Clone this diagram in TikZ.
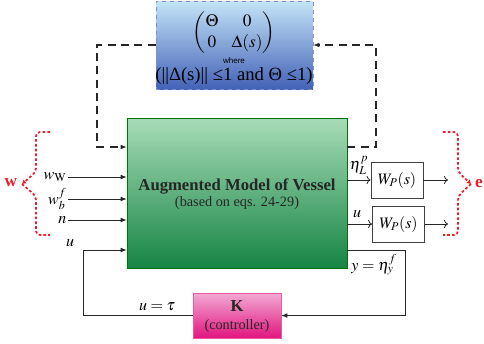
\documentclass[tikz,border=0pt]{standalone}
\usepackage{amsmath}
\usepackage{mathptmx}
\usepackage{fontspec}
\setmainfont{Liberation Serif}
\setsansfont{Liberation Sans}
\usetikzlibrary{arrows.meta}
\definecolor{uncTop}{HTML}{C4E4F8}
\definecolor{uncBot}{HTML}{4462B6}
\definecolor{mainTop}{HTML}{A8DCB8}
\definecolor{mainBot}{HTML}{168444}
\definecolor{kTop}{HTML}{F2AAD4}
\definecolor{kBot}{HTML}{E2147E}
\definecolor{braceRed}{HTML}{E8202A}
\begin{document}
\begin{tikzpicture}[x=0.75pt, y=-0.75pt,
    wpbox/.style={draw=black!75, line width=0.6pt, fill=white, minimum width=39pt,
      minimum height=27pt, inner sep=0pt, font=\fontsize{12}{14}\selectfont},
    sig/.style={-{Latex[length=4.5pt,width=3.5pt]}, line width=0.6pt, black!85},
    outsig/.style={-{To[length=3pt,width=6pt]}, line width=0.6pt, black!85},
    uncline/.style={dash pattern=on 6pt off 4pt, line width=0.8pt},
    brace/.style={braceRed, line width=1.3pt, dash pattern=on 2pt off 1.6pt, rounded corners=3pt},
    lbl/.style={font=\fontsize{12}{14}\selectfont, inner sep=1pt}]
  \useasboundingbox (0,0) rectangle (484,343);

  % uncertainty block
  \node[draw=uncBot!70, dashed, top color=uncTop, bottom color=uncBot,
    minimum width=117.75pt, minimum height=66pt] (unc) at (234.5,45) {};
  \node[font=\fontsize{13}{15}\selectfont, inner sep=0pt] (mat) at (234,33)
    {\renewcommand\arraystretch{1.05}$\begin{pmatrix}\Theta & 0\\ 0 & \Delta(s)\end{pmatrix}$};
  \node[font=\sffamily\fontsize{6}{7}\selectfont, inner sep=0pt] (where) at (234,61) {where};
  \node[font=\fontsize{14}{16}\selectfont, inner sep=0pt] (cond) at (234,76) {(||Δ(s)|| ≤1 and Θ ≤1)};

  % plant
  \node[draw=green!45!black, top color=mainTop, bottom color=mainBot,
    minimum width=165pt, minimum height=112.5pt] (main) at (237,193) {};
  \node[font=\bfseries\fontsize{12.5}{15}\selectfont, text=black!85] (title) at (237,186) {Augmented Model of Vessel};
  \node[font=\fontsize{10.7}{13}\selectfont, text=black!85] (sub) at (237,203) {(based on eqs. 24-29)};

  % controller
  \node[draw=kBot!70, top color=kTop, bottom color=kBot,
    minimum width=66pt, minimum height=33.75pt] (K) at (237,315.5) {};
  \node[font=\bfseries\fontsize{12.5}{15}\selectfont, text=black!85] (ktitle) at (237,306) {K};
  \node[font=\fontsize{10.7}{13}\selectfont, text=black!85] (ksub) at (237,326) {(controller)};

  % weights
  \node[wpbox] (wp1) at (397,180) {$W_P(s)$};
  \node[wpbox] (wp2) at (398.5,224) {$W_P(s)$};

  % inputs
  \node[lbl, anchor=east] (ww) at (68,177) {$w_{\mathrm{W}}$};
  \node[lbl, anchor=east] (wb) at (68,199) {$w_b^f$};
  \node[lbl, anchor=east] (wn) at (68,220) {$n$};
  \draw[sig] (ww.east) -- (ww.east -| main.west);
  \draw[sig] (wb.east) -- (wb.east -| main.west);
  \draw[sig] (wn.east) -- (wn.east -| main.west);

  % feedback loop
  \coordinate (ucorner) at (83,250);
  \coordinate (ycorner) at (405,250);
  \node[lbl] (lu) at (70,243) {$u$};
  \node[lbl] (ltau) at (157,307) {$u=\tau$};
  \node[lbl] (ly) at (374,265) {$y=\eta_y^f$};
  \draw[sig] (ycorner -| main.east) -- (ycorner) |- (K.east);
  \draw[sig] (K.west) -| (ucorner) -- (ucorner -| main.west);

  % performance outputs
  \node[lbl] (leta) at (359,165) {$\eta_L^p$};
  \node[lbl] (lu2) at (357,214) {$u$};
  \coordinate (e1) at (448,180);
  \coordinate (e2) at (448,224);
  \draw[outsig] (wp1.west -| main.east) -- (wp1.west);
  \draw[outsig] (wp2.west -| main.east) -- (wp2.west);
  \draw[outsig] (wp1.east) -- (e1);
  \draw[outsig] (wp2.east) -- (e2);

  % uncertainty loop
  \coordinate (dl) at (97,147);
  \coordinate (dr) at (376,147);
  \draw[sig, uncline] (unc.west) -| (dl) -- (dl -| main.west);
  \draw[sig, uncline] (dr -| main.east) -- (dr) |- (unc.east);

  % braces
  \draw[brace, -{Latex[length=3pt,width=4pt]}] (50,132) -- (36,132) -- (36,172) -- (22,184);
  \draw[brace] (22,184) -- (36,196) -- (36,235) -- (50,235);
  \node[text=braceRed, font=\bfseries\fontsize{13}{15}\selectfont] (wlbl) at (11,183) {w};
  \draw[brace, -{Latex[length=3pt,width=4pt]}] (443,132) -- (458,132) -- (458,172) -- (471,184);
  \draw[brace] (471,184) -- (458,196) -- (458,235) -- (443,235);
  \node[text=braceRed, font=\bfseries\fontsize{13}{15}\selectfont] (elbl) at (479,183) {e};
\end{tikzpicture}
\end{document}
